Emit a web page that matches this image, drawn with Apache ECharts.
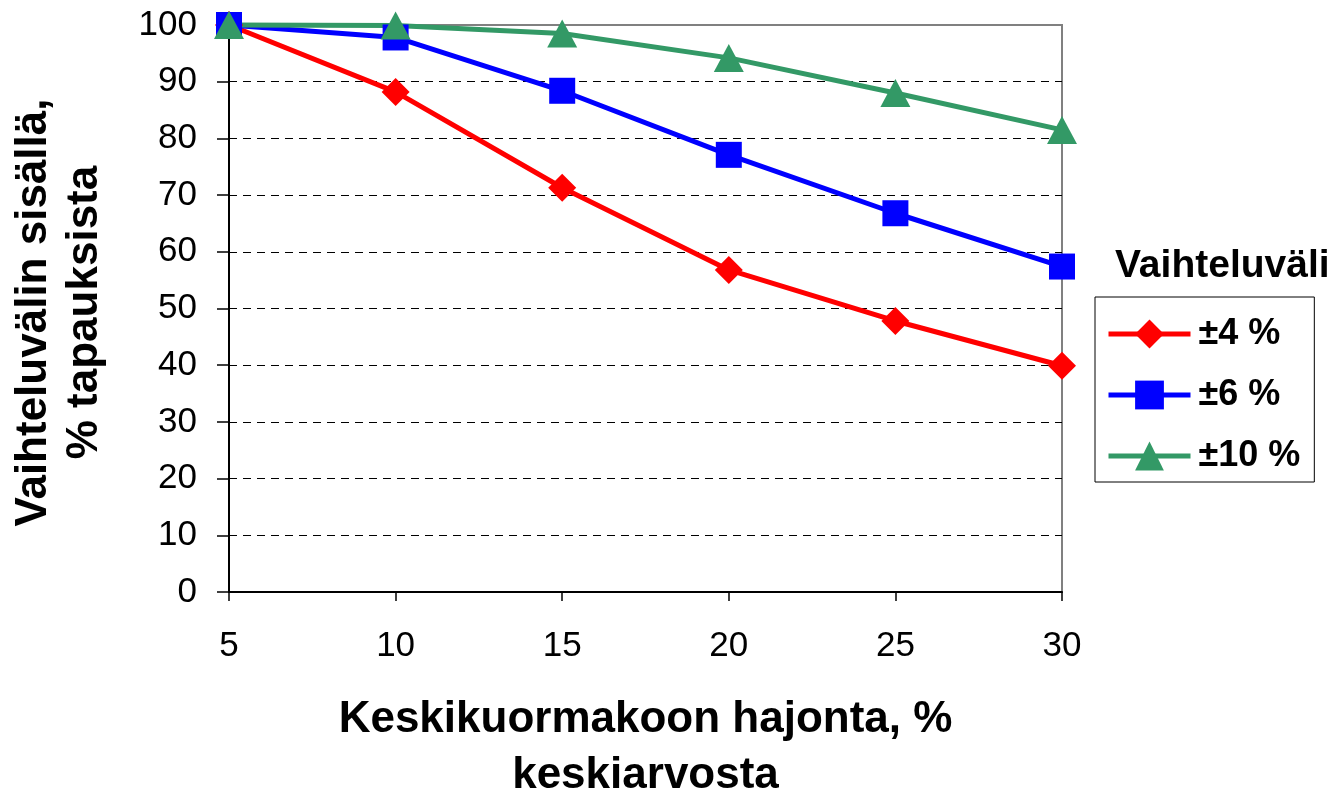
<!DOCTYPE html>
<html>
<head>
<meta charset="utf-8">
<script src="https://cdn.jsdelivr.net/npm/echarts@6/dist/echarts.min.js"></script>
<style>
  html, body { margin: 0; padding: 0; background: #fff; overflow: hidden; }
  #chart { width: 1340px; height: 798px; }
</style>
</head>
<body>
<div id="chart"></div>
<script>
// Spread of the mean load size (% of mean) on the x axis
const spread = [5, 10, 15, 20, 25, 30];

// Share of cases that fall within each range, %
const within4 = [100, 88.2, 71.3, 56.8, 47.8, 39.9];
const within6 = [100, 97.8, 88.4, 77.1, 66.8, 57.4];
const within10 = [100, 99.9, 98.5, 94.2, 88.0, 81.5];

const seriesNames = ['±4 %', '±6 %', '±10 %'];
const legendTitle = 'Vaihteluväli';
const xTitle = 'Keskikuormakoon hajonta, %\nkeskiarvosta';
const yTitle = 'Vaihteluvälin sisällä,\n% tapauksista';

const FONT = "Arial, 'Liberation Sans', sans-serif";

function pairs(values) {
  return spread.map((x, i) => [x, values[i]]);
}

function lineSeries(name, values, color, symbol, size) {
  return {
    name: name,
    type: 'line',
    data: pairs(values),
    symbol: symbol,
    symbolSize: size,
    clip: false,
    lineStyle: { color: color, width: 5 },
    itemStyle: { color: color },
    emphasis: { disabled: true },
    animation: false
  };
}

const chart = echarts.init(document.getElementById('chart'), null, {
  renderer: 'canvas', width: 1340, height: 798
});

chart.setOption({
  backgroundColor: '#ffffff',
  animation: false,
  textStyle: { fontFamily: FONT, color: '#000' },
  title: {
    text: legendTitle,
    left: 1115,
    top: 247,
    padding: 0,
    textStyle: { fontFamily: FONT, fontSize: 39, fontWeight: 'bold', color: '#000' }
  },
  legend: {
    left: 1095,
    top: 297,
    orient: 'vertical',
    selectedMode: false,
    data: seriesNames,
    itemWidth: 82,
    itemHeight: 36,
    itemGap: 25,
    padding: [19, 14, 8, 11],
    borderColor: '#000',
    borderWidth: 1,
    lineStyle: { width: 5 },
    textStyle: { fontFamily: FONT, fontSize: 36, fontWeight: 'bold', color: '#000', lineHeight: 36, padding: [0, 0, 0, 3] }
  },
  grid: {
    left: 229,
    top: 25,
    width: 833,
    height: 567,
    outerBoundsMode: 'none',
    containLabel: false,
    show: true,
    borderColor: '#808080',
    borderWidth: 2,
    backgroundColor: 'transparent'
  },
  xAxis: {
    type: 'value',
    min: 5,
    max: 30,
    interval: 5,
    name: xTitle,
    nameLocation: 'middle',
    nameGap: 100,
    nameTextStyle: { fontFamily: FONT, fontSize: 44, fontWeight: 'bold', color: '#000', lineHeight: 56 },
    axisLine: { show: true, lineStyle: { color: '#000', width: 2 } },
    axisTick: { show: true, length: 9, lineStyle: { color: '#000', width: 1.5 } },
    axisLabel: { margin: 37, fontFamily: FONT, fontSize: 35, color: '#000' },
    splitLine: { show: false }
  },
  yAxis: {
    type: 'value',
    min: 0,
    max: 100,
    interval: 10,
    name: yTitle,
    nameLocation: 'middle',
    nameRotate: 90,
    nameGap: 119,
    nameTextStyle: {
      fontFamily: FONT, fontSize: 44, fontWeight: 'bold', color: '#000',
      lineHeight: 51, padding: [0, 8, 0, 0]
    },
    axisLine: { show: true, lineStyle: { color: '#000', width: 2 } },
    axisTick: { show: true, length: 12, lineStyle: { color: '#000', width: 1.5 } },
    axisLabel: { margin: 32, fontFamily: FONT, fontSize: 35, color: '#000' },
    splitLine: {
      show: true,
      showMinLine: false,
      showMaxLine: false,
      lineStyle: { color: '#000', width: 1, type: [8, 6] }
    }
  },
  series: [
    lineSeries(seriesNames[0], within4, '#ff0000', 'diamond', 28),
    lineSeries(seriesNames[1], within6, '#0000ff', 'rect', 26),
    lineSeries(seriesNames[2], within10, '#339966', 'triangle', [30, 28])
  ]
});
</script>
</body>
</html>
